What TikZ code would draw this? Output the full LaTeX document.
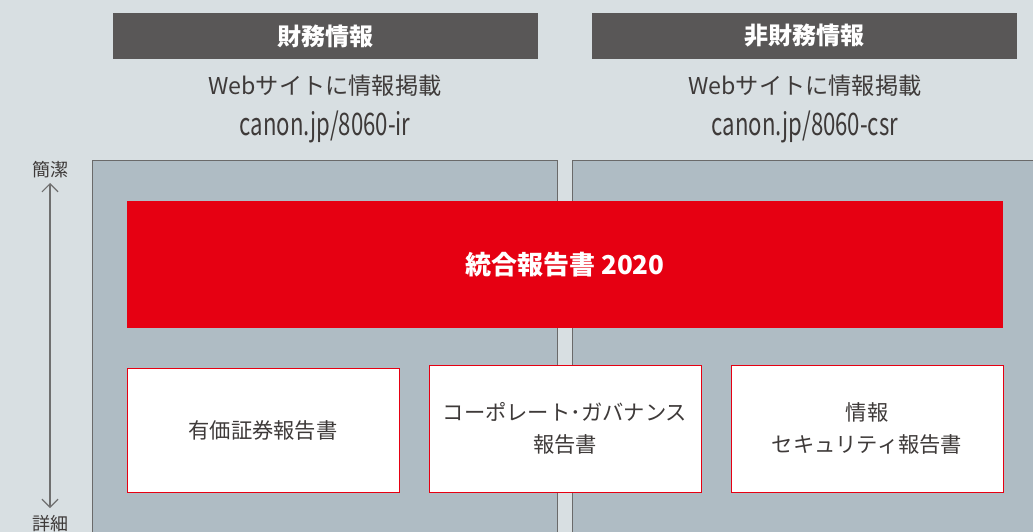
\documentclass[tikz,border=0pt]{standalone}
\usepackage{fontspec}
\setmainfont{Noto Sans CJK JP}
\usetikzlibrary{arrows.meta}
\definecolor{bg}{HTML}{D8DFE2}
\definecolor{hdr}{HTML}{595757}
\definecolor{panel}{HTML}{AFBCC4}
\definecolor{pborder}{HTML}{6A6A6A}
\definecolor{cred}{HTML}{E60012}
\definecolor{txt}{HTML}{3E3A39}
\definecolor{arr}{HTML}{6F6F6F}
\tikzset{
  hdrbox/.style={fill=hdr, text=white, minimum width=425pt, minimum height=46pt, inner sep=0pt, outer sep=0pt, font=\fontsize{24}{26}\selectfont\bfseries},
  webtxt/.style={text=txt, inner sep=0pt, font=\fontsize{23.2}{26}\selectfont},
  urltxt/.style={text=txt, inner sep=0pt, font=\fontsize{31}{33}\selectfont},
  panelbox/.style={fill=panel, draw=pborder, line width=1pt},
  redbox/.style={fill=cred, text=white, minimum width=876pt, minimum height=127pt, inner sep=0pt, outer sep=0pt, font=\fontsize{26}{28}\selectfont\bfseries},
  wbox/.style={fill=white, draw=cred, line width=0.9pt, text=txt, minimum width=272pt, inner sep=0pt, outer sep=0pt, align=center, font=\fontsize{21.3}{32}\selectfont},
  sidetxt/.style={text=txt, inner sep=0pt, font=\fontsize{18}{20}\selectfont},
}
\begin{document}
\begin{tikzpicture}[x=1pt,y=-1pt]
\useasboundingbox (0,0) rectangle (1033,532);
\clip (0,0) rectangle (1033,532);
\fill[bg] (0,0) rectangle (1033,532);
% headers
\node[hdrbox] (h1) at (325.5,36) {財務情報};
\node[hdrbox] (h2) at (804.5,36) {非財務情報};
\node[webtxt] (w1) at (325,86) {Webサイトに情報掲載};
\node[webtxt] (w2) at (805,86) {Webサイトに情報掲載};
\node[urltxt] (u1) at (325,127) {\scalebox{0.715}[1]{canon.jp/8060-ir}};
\node[urltxt] (u2) at (805,127) {\scalebox{0.715}[1]{canon.jp/8060-csr}};
% panels
\draw[panelbox] (92.5,160.5) rectangle (557.5,545);
\draw[panelbox] (572.5,160.5) rectangle (1045,545);
% red box
\node[redbox] (r) at (565,264.5) {統合報告書 2020};
% white boxes
\node[wbox, minimum height=124pt] (b1) at (263,430) {有価証券報告書};
\node[wbox, minimum height=127pt] (b2) at (565,428.5) {コーポレート･ガバナンス\\報告書};
\node[wbox, minimum height=127pt] (b3) at (867,428.5) {情報\\セキュリティ報告書};
% side arrow
\node[sidetxt] (top) at (50,170) {簡潔};
\node[sidetxt] (bot) at (50,524) {詳細};
\coordinate (at) at (50,183);
\coordinate (ab) at (50,508);
\draw[arr, line width=1.2pt, {Straight Barb[length=8pt,width=16pt]}-{Straight Barb[length=8pt,width=16pt]}] (at) -- (ab);
\end{tikzpicture}
\end{document}
